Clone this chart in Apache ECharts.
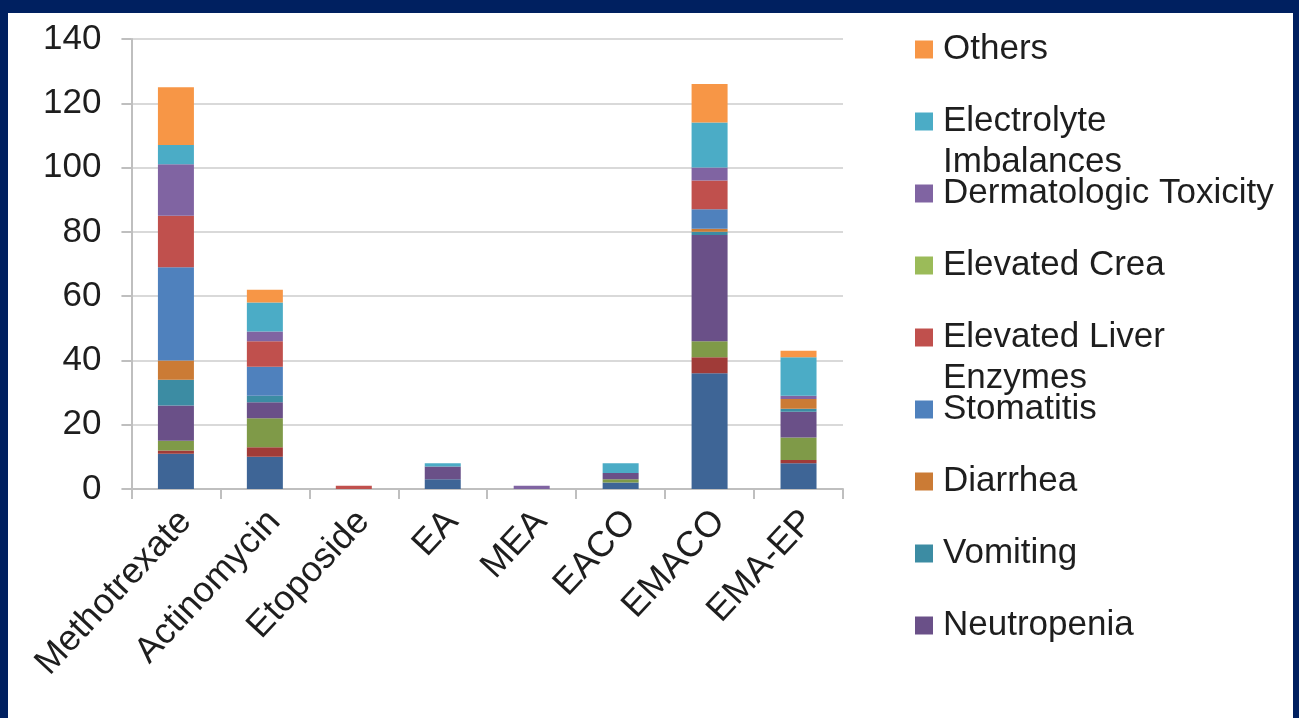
<!DOCTYPE html>
<html>
<head>
<meta charset="utf-8">
<script src="https://cdn.jsdelivr.net/npm/echarts@6/dist/echarts.min.js"></script>
<style>
  html, body { margin: 0; padding: 0; width: 1299px; height: 718px; background: #002060; overflow: hidden; }
  #chart { position: absolute; left: 8px; top: 13px; width: 1285px; height: 705px; background: #ffffff; }
</style>
</head>
<body>
<div id="chart"></div>
<script>
// Regimens on the x axis
const categories = ['Methotrexate', 'Actinomycin', 'Etoposide', 'EA', 'MEA', 'EACO', 'EMACO', 'EMA-EP'];

// Adverse-event counts per regimen, stacked bottom to top
const series1     = [11, 10, 0, 3, 0, 2, 36, 8];
const series2     = [1, 3, 0, 0, 0, 0, 5, 1];
const series3     = [3, 9, 0, 0, 0, 1, 5, 7];
const neutropenia = [11, 5, 0, 4, 0, 2, 33, 8];
const vomiting    = [8, 2, 0, 0, 0, 0, 1, 1];
const diarrhea    = [6, 0, 0, 0, 0, 0, 1, 3];
const stomatitis  = [29, 9, 0, 0, 0, 0, 6, 0];
const liver       = [16, 8, 1, 0, 0, 0, 9, 0];
const crea        = [0, 0, 0, 0, 0, 0, 0, 0];
const dermatologic = [16, 3, 0, 0, 1, 0, 4, 1];
const electrolyte = [6, 9, 0, 1, 0, 3, 14, 12];
const others      = [18, 4, 0, 0, 0, 0, 12, 2];

// Value axis range
const yMin = 0, yMax = 140, yStep = 20;

const stackDefs = [
  { name: 'Series 1', data: series1, color: '#3E6596' },
  { name: 'Series 2', data: series2, color: '#A03B38' },
  { name: 'Series 3', data: series3, color: '#7F9A48' },
  { name: 'Neutropenia', data: neutropenia, color: '#6A5088' },
  { name: 'Vomiting', data: vomiting, color: '#3C8CA3' },
  { name: 'Diarrhea', data: diarrhea, color: '#CB7B35' },
  { name: 'Stomatitis', data: stomatitis, color: '#4F81BD' },
  { name: 'Elevated Liver Enzymes', data: liver, color: '#C0504D' },
  { name: 'Elevated Crea', data: crea, color: '#9BBB59' },
  { name: 'Dermatologic Toxicity', data: dermatologic, color: '#8064A2' },
  { name: 'Electrolyte Imbalances', data: electrolyte, color: '#4BACC6' },
  { name: 'Others', data: others, color: '#F79646' }
];

// Legend lists the upper nine series, top of stack first
const legendNames = ['Others', 'Electrolyte Imbalances', 'Dermatologic Toxicity', 'Elevated Crea',
  'Elevated Liver Enzymes', 'Stomatitis', 'Diarrhea', 'Vomiting', 'Neutropenia'];
const wrapped = {
  'Electrolyte Imbalances': 'Electrolyte\nImbalances',
  'Elevated Liver Enzymes': 'Elevated Liver\nEnzymes'
};

const FONT = '"Liberation Sans", Arial, sans-serif';
const TEXT = '#1e1e1e';
const LINE_H = 41;

const chart = echarts.init(document.getElementById('chart'));
chart.setOption({
  animation: false,
  textStyle: { fontFamily: FONT },
  grid: { left: 122, top: 26, width: 713, height: 450 },
  legend: {
    orient: 'vertical',
    left: 907,
    top: -25,
    padding: 0,
    itemGap: -51,
    itemWidth: 18,
    itemHeight: 18,
    icon: 'rect',
    selectedMode: false,
    data: legendNames,
    // three-line block centred on the swatch: blank, name, wrapped tail
    formatter: (name) => ' \n' + (wrapped[name] || (name + '\n ')),
    textStyle: {
      fontFamily: FONT,
      fontSize: 35,
      color: TEXT,
      lineHeight: LINE_H,
      padding: [0, 0, 0, 5]
    }
  },
  xAxis: {
    type: 'category',
    data: categories,
    axisLine: { lineStyle: { color: '#BFBFBF', width: 2 } },
    axisTick: { show: true, length: 10, lineStyle: { color: '#BFBFBF', width: 2 } },
    axisLabel: {
      rotate: 47,
      margin: 18,
      interval: 0,
      fontFamily: FONT,
      fontSize: 36,
      lineHeight: 26,
      color: TEXT,
      // leading blank line nudges each rotated name down-right of its tick
      formatter: (v) => ' \n' + v
    }
  },
  yAxis: {
    type: 'value',
    min: yMin,
    max: yMax,
    interval: yStep,
    axisLine: { show: true, lineStyle: { color: '#BFBFBF', width: 2 } },
    axisTick: { show: true, length: 10, lineStyle: { color: '#BFBFBF', width: 2 } },
    splitLine: { lineStyle: { color: '#D9D9D9', width: 2 } },
    axisLabel: { margin: 30, fontFamily: FONT, fontSize: 35, color: TEXT }
  },
  series: stackDefs.map(d => ({
    name: d.name,
    type: 'bar',
    stack: 'events',
    barWidth: 36,
    data: d.data,
    itemStyle: { color: d.color }
  }))
});
</script>
</body>
</html>
